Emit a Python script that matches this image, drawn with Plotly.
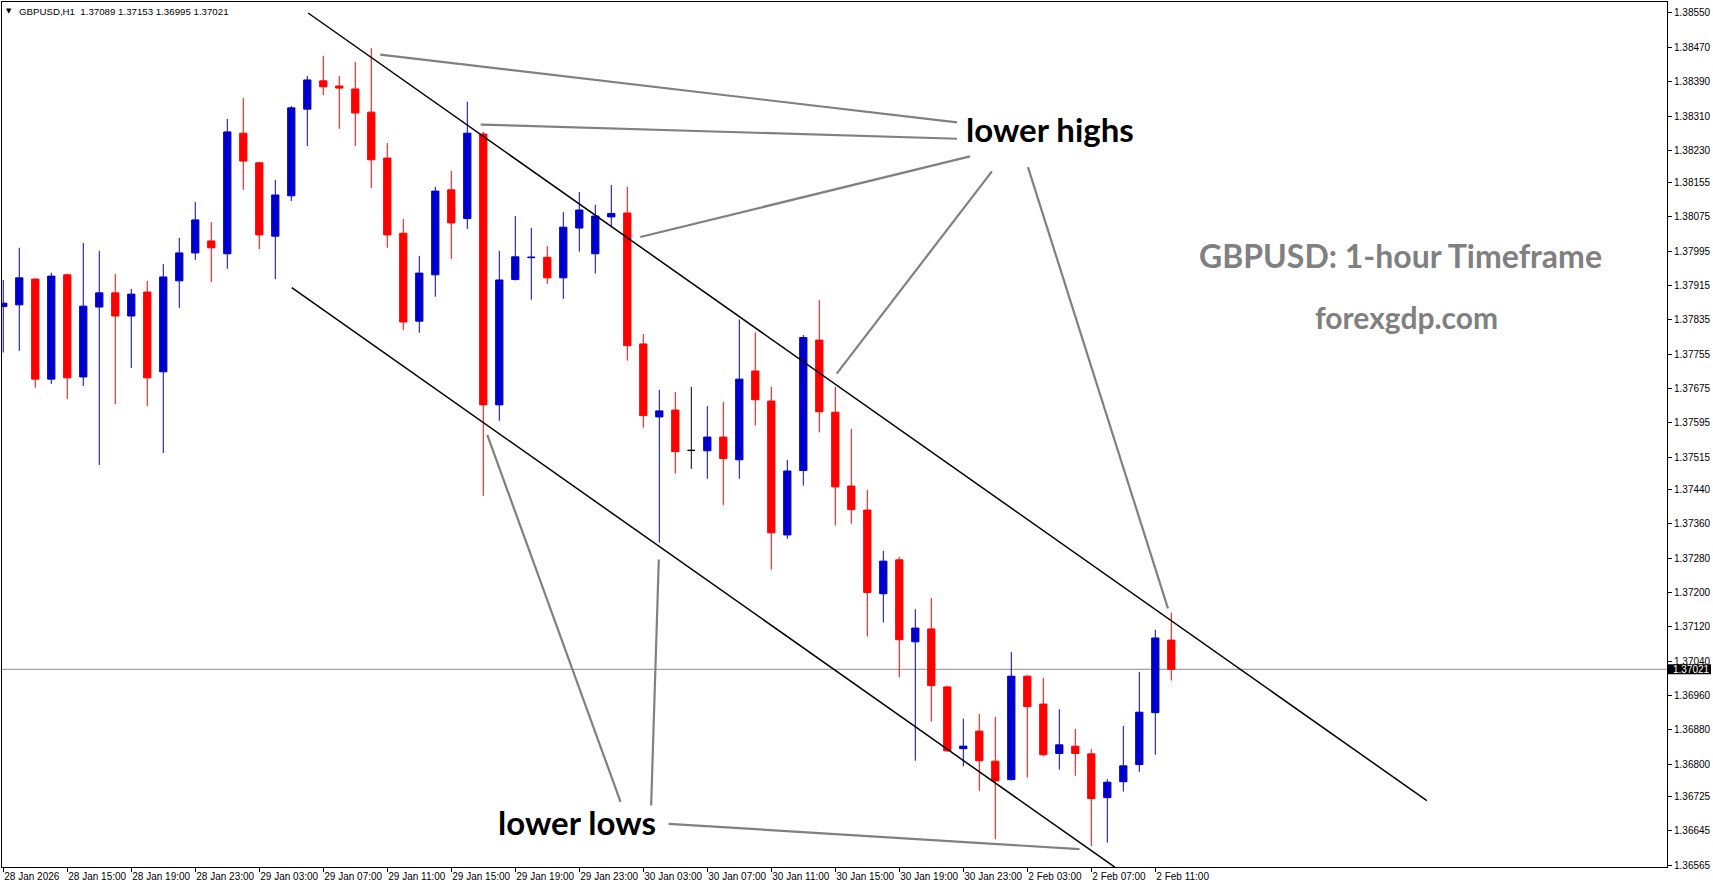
import pandas as pd
import plotly.graph_objects as go

# ---------------- data ----------------
times = list(pd.date_range("2026-01-28 11:00", "2026-01-30 23:00", freq="h")) + \
        list(pd.date_range("2026-02-02 00:00", "2026-02-02 12:00", freq="h"))

open_ = [1.37866, 1.37870, 1.37930, 1.37697, 1.37940, 1.37702, 1.37865, 1.37898, 1.37844, 1.37900,
         1.37714, 1.37926, 1.37991, 1.38019, 1.37989, 1.38270, 1.38201, 1.38030, 1.38124, 1.38326,
         1.38392, 1.38380, 1.38373, 1.38319, 1.38212, 1.38037, 1.37832, 1.37940, 1.38138, 1.38071,
         1.38268, 1.37637, 1.37929, 1.37980, 1.37981, 1.37933, 1.38049, 1.37989, 1.38075, 1.38084,
         1.37779, 1.37609, 1.37625, 1.37531, 1.37530, 1.37562, 1.37509, 1.37716, 1.37646, 1.37334,
         1.37484, 1.37788, 1.37620, 1.37448, 1.37392, 1.37197, 1.37276, 1.37085, 1.37115, 1.36980,
         1.36836, 1.36877, 1.36807, 1.36764, 1.37005, 1.36940, 1.36825, 1.36842, 1.36824, 1.36722,
         1.36759, 1.36799, 1.36920, 1.37089]
high = [1.37928, 1.38003, 1.37932, 1.37945, 1.37943, 1.38014, 1.37996, 1.37942, 1.37907, 1.37926,
        1.37965, 1.38026, 1.38110, 1.38063, 1.38303, 1.38352, 1.38203, 1.38161, 1.38333, 1.38403,
        1.38450, 1.38403, 1.38436, 1.38468, 1.38247, 1.38070, 1.37984, 1.38145, 1.38182, 1.38343,
        1.38273, 1.37996, 1.38077, 1.38049, 1.38007, 1.38086, 1.38133, 1.38103, 1.38149, 1.38145,
        1.37802, 1.37672, 1.37667, 1.37679, 1.37634, 1.37644, 1.37836, 1.37806, 1.37679, 1.37509,
        1.37800, 1.37881, 1.37679, 1.37581, 1.37439, 1.37297, 1.37283, 1.37161, 1.37187, 1.36983,
        1.36906, 1.36917, 1.36910, 1.37061, 1.37007, 1.37001, 1.36928, 1.36882, 1.36835, 1.36765,
        1.36889, 1.37015, 1.37113, 1.37153]
low = [1.37759, 1.37763, 1.37677, 1.37686, 1.37651, 1.37681, 1.37497, 1.37639, 1.37723, 1.37634,
       1.37525, 1.37863, 1.37975, 1.37923, 1.37954, 1.38138, 1.38000, 1.37930, 1.38112, 1.38240,
       1.38359, 1.38280, 1.38240, 1.38142, 1.38003, 1.37811, 1.37805, 1.37889, 1.37977, 1.38047,
       1.37425, 1.37600, 1.37927, 1.37882, 1.37919, 1.37884, 1.37994, 1.37943, 1.38052, 1.37740,
       1.37584, 1.37316, 1.37477, 1.37488, 1.37465, 1.37404, 1.37465, 1.37589, 1.37253, 1.37325,
       1.37449, 1.37573, 1.37356, 1.37360, 1.37097, 1.37130, 1.37002, 1.36808, 1.36899, 1.36829,
       1.36795, 1.36738, 1.36625, 1.36762, 1.36769, 1.36818, 1.36787, 1.36773, 1.36609, 1.36617,
       1.36736, 1.36782, 1.36822, 1.36995]
close = [1.37874, 1.37933, 1.37697, 1.37937, 1.37700, 1.37867, 1.37898, 1.37844, 1.37895, 1.37700,
         1.37935, 1.37991, 1.38068, 1.38003, 1.38273, 1.38205, 1.38033, 1.38126, 1.38329, 1.38394,
         1.38378, 1.38375, 1.38317, 1.38208, 1.38033, 1.37830, 1.37944, 1.38135, 1.38061, 1.38270,
         1.37637, 1.37928, 1.37982, 1.37981, 1.37933, 1.38051, 1.38091, 1.38077, 1.38083, 1.37775,
         1.37612, 1.37623, 1.37528, 1.37531, 1.37562, 1.37512, 1.37697, 1.37649, 1.37339, 1.37483,
         1.37794, 1.37621, 1.37446, 1.37393, 1.37200, 1.37273, 1.37090, 1.37117, 1.36983, 1.36831,
         1.36842, 1.36808, 1.36761, 1.37005, 1.36934, 1.36822, 1.36845, 1.36825, 1.36720, 1.36758,
         1.36796, 1.36921, 1.37094, 1.37021]

x_tick_labels = ["28 Jan 2026", "28 Jan 15:00", "28 Jan 19:00", "28 Jan 23:00", "29 Jan 03:00",
                 "29 Jan 07:00", "29 Jan 11:00", "29 Jan 15:00", "29 Jan 19:00", "29 Jan 23:00",
                 "30 Jan 03:00", "30 Jan 07:00", "30 Jan 11:00", "30 Jan 15:00", "30 Jan 19:00",
                 "30 Jan 23:00", "2 Feb 03:00", "2 Feb 07:00", "2 Feb 11:00"]
y_tick_labels = ["1.38550", "1.38470", "1.38390", "1.38310", "1.38230", "1.38155", "1.38075",
                 "1.37995", "1.37915", "1.37835", "1.37755", "1.37675", "1.37595", "1.37515",
                 "1.37440", "1.37360", "1.37280", "1.37200", "1.37120", "1.37040", "1.36960",
                 "1.36880", "1.36800", "1.36725", "1.36645", "1.36565"]
last_price = 1.37021

# trend lines: (bar position, price) pairs
upper_channel = [(19.05, 1.38550), (88.97, 1.36715)]
lower_channel = [(18.03, 1.37910), (69.47, 1.36560)]
lower_high_lines = [
    [(23.56, 1.38453), (59.61, 1.38295)],
    [(29.84, 1.38290), (59.61, 1.38257)],
    [(39.81, 1.38028), (60.42, 1.38216)],
    [(52.09, 1.37710), (61.79, 1.38181)],
    [(64.04, 1.38191), (72.79, 1.37163)],
]
lower_low_lines = [
    [(30.25, 1.37567), (38.58, 1.36712)],
    [(40.97, 1.37277), (40.49, 1.36704)],
    [(41.58, 1.36661), (67.26, 1.36602)],
]

# ---------------- figure ----------------
W, H = 1713, 888
ML, MR, MT, MB = 2, 46, 2, 21
PW, PH = W - ML - MR, H - MT - MB

def px_x(p):
    return (p - ML) / PW

def px_y(p):
    return (H - MB - p) / PH

BLUE, RED, BLACK = "#0000CC", "#FF0000", "#000000"
pos = list(range(len(times)))

groups = {BLUE: [], RED: [], BLACK: []}
for i in pos:
    if close[i] > open_[i]:
        groups[BLUE].append(i)
    elif close[i] < open_[i]:
        groups[RED].append(i)
    else:
        groups[BLACK].append(i)

fig = go.Figure()
for col, idx in groups.items():
    if not idx:
        continue
    style = dict(line=dict(color=col, width=1), fillcolor=col)
    fig.add_trace(go.Candlestick(
        x=[pos[i] for i in idx],
        open=[open_[i] for i in idx],
        high=[high[i] for i in idx],
        low=[low[i] for i in idx],
        close=[close[i] for i in idx],
        increasing=style, decreasing=style,
        whiskerwidth=0, hoverinfo="skip", showlegend=False,
    ))

shapes = []
# current price line
shapes.append(dict(type="line", xref="paper", yref="y", x0=0, x1=1, y0=last_price, y1=last_price,
                   line=dict(color="#8c8c8c", width=1), layer="below"))
for seg in (upper_channel, lower_channel):
    (xa, ya), (xb, yb) = seg
    shapes.append(dict(type="line", xref="x", yref="y", x0=xa, y0=ya, x1=xb, y1=yb,
                       line=dict(color="black", width=1.5)))
for seg in lower_high_lines + lower_low_lines:
    (xa, ya), (xb, yb) = seg
    shapes.append(dict(type="line", xref="x", yref="y", x0=xa, y0=ya, x1=xb, y1=yb,
                       line=dict(color="#808080", width=2.2)))
# price label box on the axis
shapes.append(dict(type="rect", xref="paper", yref="y", x0=px_x(1668), x1=px_x(1711),
                   y0=last_price - 0.000115, y1=last_price + 0.000115,
                   fillcolor="black", line=dict(width=0), layer="above"))

small = dict(family="Liberation Sans, Arial, sans-serif", size=10, color="black")
annotations = [
    dict(text="▼", xref="paper", yref="paper", x=px_x(8.5), y=px_y(11), showarrow=False,
         xanchor="center", yanchor="middle", font=dict(family="DejaVu Sans", size=7, color="black")),
    dict(text="GBPUSD,H1  %.5f %.5f %.5f %.5f" % (open_[-1], high[-1], low[-1], close[-1]),
         xref="paper", yref="paper", x=px_x(17), y=px_y(11), showarrow=False,
         xanchor="left", yanchor="middle",
         font=dict(family=small["family"], size=9.7, color="black")),
    dict(text="%.5f" % last_price, xref="paper", yref="y", x=px_x(1671), y=last_price,
         showarrow=False, xanchor="left", yanchor="middle",
         font=dict(family=small["family"], size=10, color="white")),
    dict(text="lower highs", xref="x", yref="y", x=65.4, y=1.38280, showarrow=False,
         xanchor="center", yanchor="middle",
         font=dict(family="Lato", size=33, color="black", weight="bold")),
    dict(text="lower lows", xref="x", yref="y", x=35.86, y=1.36665, showarrow=False,
         xanchor="center", yanchor="middle",
         font=dict(family="Lato", size=33, color="black", weight="bold")),
    dict(text="GBPUSD: 1-hour Timeframe", xref="x", yref="y", x=87.3, y=1.37984, showarrow=False,
         xanchor="center", yanchor="middle",
         font=dict(family="Lato", size=32, color="#808080", weight="bold")),
    dict(text="forexgdp.com", xref="x", yref="y", x=87.7, y=1.37842, showarrow=False,
         xanchor="center", yanchor="middle",
         font=dict(family="Lato", size=30, color="#808080", weight="bold")),
]

fig.update_layout(
    width=W, height=H,
    margin=dict(l=ML, r=MR, t=MT, b=MB, pad=0),
    paper_bgcolor="white", plot_bgcolor="white",
    showlegend=False, boxgap=0.35, boxmode="overlay",
    shapes=shapes, annotations=annotations,
    xaxis=dict(
        range=[-0.08, 103.98], rangeslider=dict(visible=False),
        tickmode="array", tickvals=pos[::4], ticktext=x_tick_labels,
        ticks="outside", ticklen=4, tickcolor="black", tickwidth=1, tickangle=0,
        ticklabelposition="outside right", tickfont=small, automargin=False,
        showline=True, mirror=True, linecolor="black", linewidth=1,
        showgrid=False, zeroline=False, fixedrange=True,
    ),
    yaxis=dict(
        range=[1.365604, 1.385756], side="right", automargin=False,
        tickmode="array", tickvals=[float(v) for v in y_tick_labels], ticktext=y_tick_labels,
        ticks="outside", ticklen=4, tickcolor="black", tickwidth=1, tickfont=small,
        showline=True, mirror=True, linecolor="black", linewidth=1,
        showgrid=False, zeroline=False, fixedrange=True,
    ),
)

fig.write_html("out.html")
